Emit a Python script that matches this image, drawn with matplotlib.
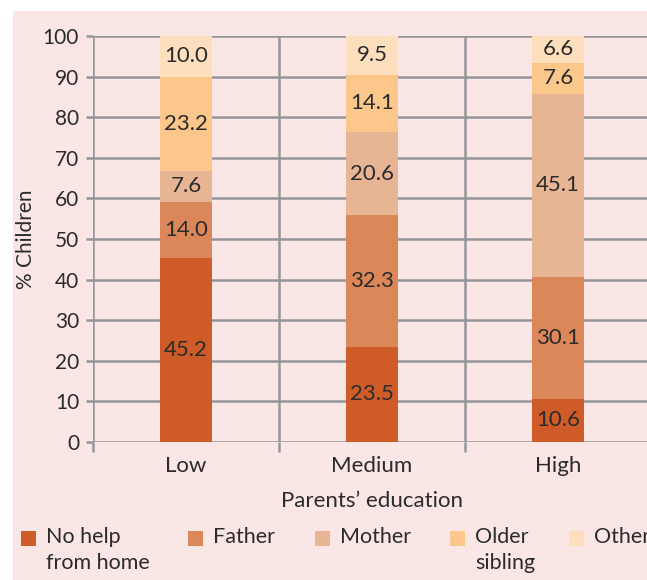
import matplotlib.pyplot as plt
from matplotlib.patches import Rectangle
import numpy as np

plt.rcParams['font.family'] = ['Lato', 'DejaVu Sans']

levels = ['Low', 'Medium', 'High']
no_help = [45.2, 23.5, 10.6]
father = [14.0, 32.3, 30.1]
mother = [7.6, 20.6, 45.1]
older_sibling = [23.2, 14.1, 7.6]
other = [10.0, 9.5, 6.6]

series = [no_help, father, mother, older_sibling, other]
names = ['No help\nfrom home', 'Father', 'Mother', 'Older\nsibling', 'Other']
colors = ['#cf5c28', '#dc875a', '#e8b594', '#fbc78b', '#fddfbe']

grid_col = '#96969a'
text_col = '#2b2b2b'

W, H = 647, 580
fig = plt.figure(figsize=(W / 100, H / 100), dpi=100)
fig.patch.set_facecolor('white')
# pink panel behind everything
fig.add_artist(Rectangle((13 / W, 0), 1, 1 - 11 / H, transform=fig.transFigure,
                         facecolor='#fae6e4', edgecolor='none', zorder=0))

ax = fig.add_axes([93 / W, 138 / H, 558 / W, 406 / H])
ax.set_facecolor('none')
ax.set_xlim(-0.5, 2.5)
ax.set_ylim(0, 100)
for s in ax.spines.values():
    s.set_visible(False)

x = np.arange(len(levels))
bottom = np.zeros(len(levels))
for vals, c in zip(series, colors):
    bars = ax.bar(x, vals, width=0.28, bottom=bottom, color=c, zorder=3)
    ax.bar_label(bars, labels=['%.1f' % v for v in vals], label_type='center',
                 fontsize=16, color=text_col)
    bottom += np.array(vals)

ax.set_axisbelow(True)
ax.set_yticks(range(0, 101, 10))
ax.yaxis.grid(True, color=grid_col, lw=1.8)
ax.tick_params(axis='y', length=5, width=1.8, color=grid_col, direction='out',
               pad=5, labelsize=15, labelcolor=text_col)

ax.set_xticks(x)
ax.set_xticklabels(levels)
ax.set_xticks([-0.5, 0.5, 1.5, 2.5], minor=True)
ax.xaxis.grid(True, which='minor', color=grid_col, lw=1.8)
ax.tick_params(axis='x', which='major', length=0, pad=10, labelsize=16,
               labelcolor=text_col)
ax.tick_params(axis='x', which='minor', length=7, width=1.8, color=grid_col,
               direction='out')

ax.set_xlabel('Parents\u2019 education', fontsize=16, color=text_col, labelpad=11)
ax.set_ylabel('% Children', fontsize=15, color=text_col, labelpad=5)

# legend drawn by hand so the swatch sits next to the first line
leg_x = [21, 188, 315, 450, 569]
for lx, name, c in zip(leg_x, names, colors):
    fig.add_artist(Rectangle((lx / W, (H - 546) / H), 15 / W, 15 / H,
                             transform=fig.transFigure, facecolor=c,
                             edgecolor='none', zorder=2))
    fig.text((lx + 25) / W, (H - 527) / H, name, fontsize=15.5, color=text_col,
             va='top', ha='left', linespacing=1.4, zorder=3)

fig.savefig('out.png', dpi=100)
